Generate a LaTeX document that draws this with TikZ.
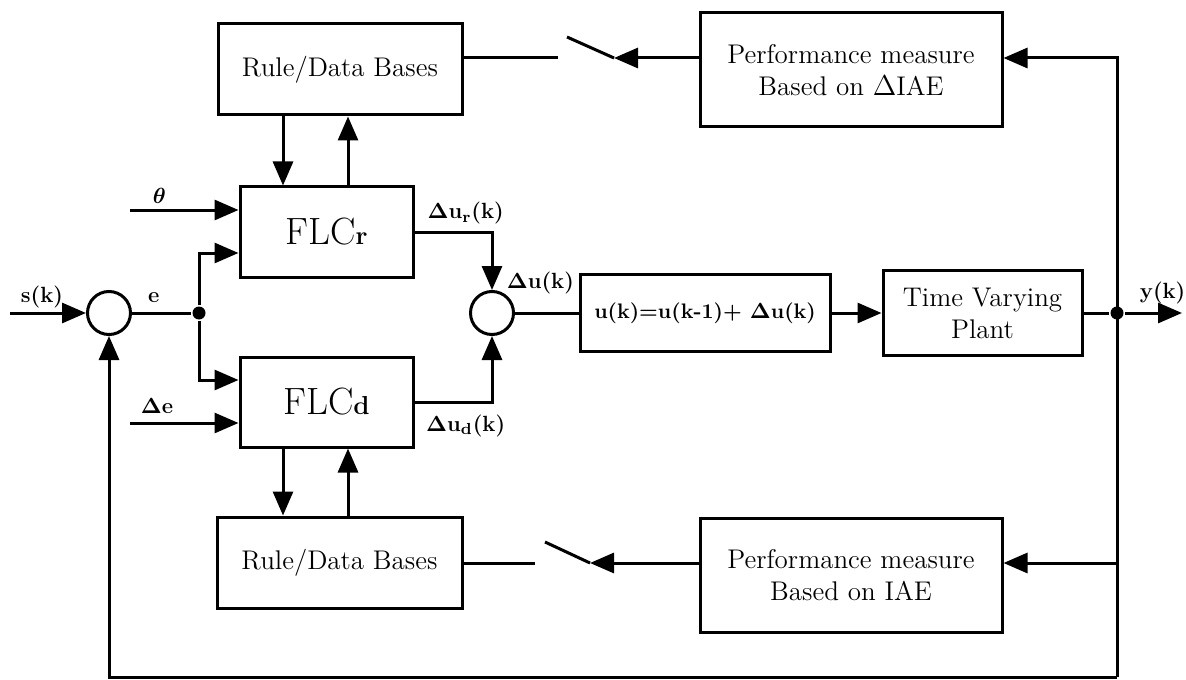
\documentclass[tikz,border=0pt]{standalone}
\usepackage{amsmath}
\usepackage{tikz}
\usetikzlibrary{arrows.meta, positioning, calc}

\begin{document}
\begin{tikzpicture}[x=0.5pt, y=-0.5pt, line width=1.5pt,
    block/.style={rectangle, draw, line width=1.5pt, inner sep=0pt, align=center, font=\fontsize{13.5}{16}\selectfont},
    flc/.style={block, minimum width=86.5pt, minimum height=45pt, font=\fontsize{19}{22}\selectfont},
    sumnode/.style={circle, draw, line width=1.5pt, inner sep=0pt, minimum size=21.5pt},
    joint/.style={circle, fill, inner sep=0pt, minimum size=6.5pt},
    sig/.style={-{Triangle[length=12pt,width=10pt]}},
    lbl/.style={anchor=base, inner sep=0pt, font=\fontsize{11}{13}\selectfont\bfseries}
]
    \useasboundingbox (0,0) rectangle (1186,679);

    \node [block, minimum width=122pt, minimum height=45.5pt] (rulr) at (340,69.5) {Rule/Data Bases};
    \node [flc] (flcr) at (326.5,232) {FLC{\fontsize{13}{13}\selectfont\bfseries r}};
    \node [flc] (flcd) at (326.5,402) {FLC{\fontsize{13}{13}\selectfont\bfseries d}};
    \node [block, minimum width=122.5pt, minimum height=45.5pt] (ruld) at (339.5,562.5) {Rule/Data Bases};
    \node [block, minimum width=151pt, minimum height=57pt] (perfr) at (851,70) {Performance measure\\Based on $\Delta$IAE};
    \node [block, minimum width=151pt, minimum height=57pt] (perfd) at (851,575) {Performance measure\\Based on IAE};
    \node [block, minimum width=125pt, minimum height=38.5pt, font=\fontsize{10.5}{12}\selectfont\bfseries] (ubox) at (705,313) {u(k)=u(k-1)+ $\mathbf{\Delta}$u(k)};
    \node [block, minimum width=99.5pt, minimum height=42.5pt] (plant) at (982.5,313) {Time Varying\\Plant};
    \node [sumnode] (sume) at (109,313) {};
    \node [sumnode] (sumu) at (492,313) {};
    \node [joint] (edot) at (199,313) {};
    \node [joint] (ydot) at (1117,313) {};

    \coordinate (sin) at (10,313);
    \coordinate (th) at (130,210);
    \coordinate (de) at (130,423);
    \coordinate (dn) at (283,0);
    \coordinate (up) at (348,0);
    \coordinate (ytop) at (1117,58);
    \coordinate (ybot) at (1117,677);
    \coordinate (yout) at (1182,313);
    \coordinate (swr) at (558,58);
    \coordinate (swra) at (567,37);
    \coordinate (swrb) at (614,58);
    \coordinate (swd) at (535,563);
    \coordinate (swda) at (545,542);
    \coordinate (swdb) at (590,563);

    % error path and controller inputs
    \draw [sig] (sin) -- node [lbl, pos=0.42, yshift=5.5pt] {s(k)} (sume.west);
    \draw (sume.east) -- node [lbl, pos=0.37, yshift=5.5pt] {e} (edot);
    \draw [sig] (edot) |- ($(flcr.west)+(0,21)$);
    \draw [sig] (edot) |- ($(flcd.west)+(0,-22)$);
    \draw [sig] (th) -- node [lbl, pos=0.27, yshift=3pt] {$\boldsymbol{\theta}$} (th -| flcr.west);
    \draw [sig] (de) -- node [lbl, pos=0.25, yshift=5pt] {$\mathbf{\Delta}$e} (de -| flcd.west);

    \draw [sig] (rulr.south -| dn) -- (flcr.north -| dn);
    \draw [sig] (flcr.north -| up) -- (rulr.south -| up);
    \draw [sig] (flcd.south -| dn) -- (ruld.north -| dn);
    \draw [sig] (ruld.north -| up) -- (flcd.south -| up);

    \draw [sig] (flcr.east) -| node [lbl, pos=0.33, yshift=6.5pt] {$\mathbf{\Delta}$u$_{\mathbf{r}}$(k)} (sumu.north);
    \draw [sig] (flcd.east) -| node [lbl, pos=0.33, yshift=-14.5pt] {$\mathbf{\Delta}$u$_{\mathbf{d}}$(k)} (sumu.south);
    \draw (sumu.east) -- node [lbl, pos=0.4, yshift=12.5pt] {$\mathbf{\Delta}$u(k)} (ubox.west);
    \draw [sig] (ubox.east) -- (plant.west);
    \draw (plant.east) -- (ydot);
    \draw [sig] (ydot) -- node [lbl, pos=0.66, yshift=7.5pt] {y(k)} (yout);

    % feedback and performance loops
    \draw [sig] (ybot) -- (ytop) -- (perfr.east |- ytop);
    \draw [sig] (ybot |- swd) -- (perfd.east |- swd);
    \draw [sig] (ybot) -| (sume.south);

    \draw (rulr.east |- swr) -- (swr);
    \draw (swra) -- (swrb);
    \draw [sig] (perfr.west |- swrb) -- (swrb);
    \draw (ruld.east |- swd) -- (swd);
    \draw (swda) -- (swdb);
    \draw [sig] (perfd.west |- swdb) -- (swdb);
\end{tikzpicture}
\end{document}
